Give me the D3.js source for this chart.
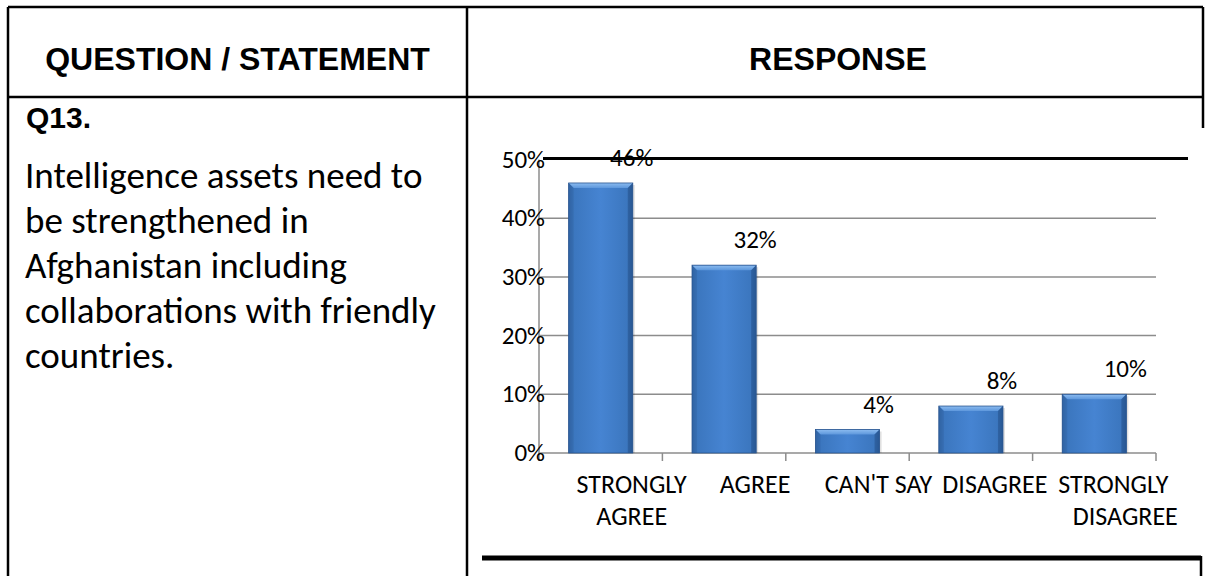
<!DOCTYPE html>
<html><head><meta charset="utf-8">
<script src="https://cdn.jsdelivr.net/npm/d3@7"></script>
<style>html,body{margin:0;padding:0;background:#fff;} svg{display:block}</style>
</head><body>
<svg id="c" width="1211" height="576"></svg>
<script>
// ---- data ----
const categories = ["STRONGLY AGREE", "AGREE", "CAN'T SAY", "DISAGREE", "STRONGLY DISAGREE"];
const categoryLines = [["STRONGLY", "AGREE"], ["AGREE"], ["CAN'T SAY"], ["DISAGREE"], ["STRONGLY", "DISAGREE"]];
const values = [46, 32, 4, 8, 10];
const yTicks = [0, 10, 20, 30, 40, 50];
const headerLabels = ["QUESTION / STATEMENT", "RESPONSE"];
const questionId = "Q13.";
const statementLines = ["Intelligence assets need to", "be strengthened in", "Afghanistan including", "collaborations with friendly", "countries."];

// ---- layout ----
const svg = d3.select("#c");
const CAL = "Carlito, Calibri, Lato, 'Open Sans', sans-serif";
const ARIAL = "'Liberation Sans', Arial, sans-serif";

const T = {left: 8, right: 1203, top: 7, mid: 467, headBottom: 97, bottom: 576};

function calText(g, txt, x, y, size, anchor, fill) {
  return g.append("text")
    .attr("x", x).attr("y", y)
    .attr("text-anchor", anchor || "start")
    .style("font-family", CAL).style("font-size", size + "px")
    .attr("fill", fill || "#000")
    .text(txt);
}

// table
const tb = svg.append("g").attr("stroke", "#000").attr("stroke-width", 2.5).attr("fill", "none");
tb.append("line").attr("x1", T.left).attr("x2", T.right).attr("y1", T.top).attr("y2", T.top);
tb.append("line").attr("x1", T.left).attr("x2", T.left).attr("y1", T.top).attr("y2", T.bottom);
tb.append("line").attr("x1", T.mid).attr("x2", T.mid).attr("y1", T.top).attr("y2", T.bottom);
tb.append("line").attr("x1", T.left).attr("x2", T.right).attr("y1", T.headBottom).attr("y2", T.headBottom);
tb.append("line").attr("x1", T.right).attr("x2", T.right).attr("y1", T.top).attr("y2", 128);
tb.append("line").attr("x1", 1201).attr("x2", 1201).attr("y1", 556).attr("y2", T.bottom);

// headers
svg.append("text").attr("x", (T.left + T.mid) / 2).attr("y", 70).attr("text-anchor", "middle")
  .style("font-family", ARIAL).style("font-weight", "bold").style("font-size", "32px").text(headerLabels[0]);
svg.append("text").attr("x", (T.mid + T.right) / 2 + 3).attr("y", 70).attr("text-anchor", "middle")
  .style("font-family", ARIAL).style("font-weight", "bold").style("font-size", "32px").text(headerLabels[1]);
svg.append("text").attr("x", 26).attr("y", 128)
  .style("font-family", ARIAL).style("font-weight", "bold").style("font-size", "30px").text(questionId);

statementLines.forEach((l, i) => calText(svg, l, 25, 188 + i * 45, 37, "start"));

// chart
const x = d3.scaleBand().domain(categories).range([539, 1156]).paddingInner(0.48).paddingOuter(0.24);
const y = d3.scaleLinear().domain([0, 50]).range([453, 159.5]);

const defs = svg.append("defs");
const gBody = defs.append("linearGradient").attr("id", "gb").attr("x1", 0).attr("x2", 1).attr("y1", 0).attr("y2", 0);
[[0, "#2c5d9b"], [0.07, "#3b76be"], [0.5, "#4684d2"], [0.93, "#3b76be"], [1, "#2c5d9b"]]
  .forEach(s => gBody.append("stop").attr("offset", s[0]).attr("stop-color", s[1]));
const gTop = defs.append("linearGradient").attr("id", "gt").attr("x1", 0).attr("x2", 0).attr("y1", 0).attr("y2", 1);
[[0, "#8cbcf0"], [1, "#5d97dc"]].forEach(s => gTop.append("stop").attr("offset", s[0]).attr("stop-color", s[1]));

const plot = svg.append("g");
// gridlines
plot.selectAll(".grid").data(yTicks.filter(t => t > 0 && t < 50)).enter().append("line")
  .attr("x1", 539).attr("x2", 1156).attr("y1", d => y(d)).attr("y2", d => y(d))
  .attr("stroke", "#8c8c8c").attr("stroke-width", 1.5);
// axes
plot.append("line").attr("x1", 539).attr("x2", 539).attr("y1", y(50)).attr("y2", y(0))
  .attr("stroke", "#8c8c8c").attr("stroke-width", 1.5);
plot.append("line").attr("x1", 539).attr("x2", 1156).attr("y1", y(0)).attr("y2", y(0))
  .attr("stroke", "#8c8c8c").attr("stroke-width", 1.5);
d3.range(categories.length + 1).forEach(i => {
  const bx = x.range()[0] + i * x.step();
  plot.append("line").attr("x1", bx).attr("x2", bx).attr("y1", y(0)).attr("y2", y(0) + 8)
    .attr("stroke", "#8c8c8c").attr("stroke-width", 1.5);
});
// top black line
svg.append("line").attr("x1", 543).attr("x2", 1188).attr("y1", y(50) - 1).attr("y2", y(50) - 1)
  .attr("stroke", "#000").attr("stroke-width", 2.8);

// y tick labels
yTicks.forEach(t => calText(plot, t + "%", 545, y(t) + 8, 25, "end", "#000"));

// bars
const b = 5;
categories.forEach((c, i) => {
  const x0 = x(c), x1 = x(c) + x.bandwidth(), y0 = y(values[i]), yb = y(0);
  const g = plot.append("g");
  g.append("rect").attr("x", x0 + 2).attr("y", y0 + 2).attr("width", x.bandwidth()).attr("height", yb - y0 - 2)
    .attr("fill", "#000").attr("opacity", 0.12);
  g.append("rect").attr("x", x0).attr("y", y0).attr("width", x.bandwidth()).attr("height", yb - y0)
    .attr("fill", "url(#gb)");
  g.append("polygon").attr("points", [[x0, y0], [x1, y0], [x1 - b, y0 + b], [x0 + b, y0 + b]].map(p => p.join(",")).join(" "))
    .attr("fill", "url(#gt)");
  g.append("polygon").attr("points", [[x0, y0], [x0 + b, y0 + b], [x0 + b, yb], [x0, yb]].map(p => p.join(",")).join(" "))
    .attr("fill", "#3467a8").attr("opacity", 0.6);
  g.append("polygon").attr("points", [[x1, y0], [x1 - b, y0 + b], [x1 - b, yb], [x1, yb]].map(p => p.join(",")).join(" "))
    .attr("fill", "#27548d").attr("opacity", 0.6);
  g.append("rect").attr("x", x0).attr("y", y0).attr("width", x.bandwidth()).attr("height", yb - y0)
    .attr("fill", "none").attr("stroke", "#2a5590").attr("stroke-width", 0.8);
  // value label
  calText(plot, values[i] + "%", x0 + x.bandwidth() / 2 + 31, y0 - 17, 25, "middle");
  // category label (the two crowded right-hand labels sit a little left, as in the source)
  categoryLines[i].forEach((l, j) => {
    let shift = 31;
    if (i === 3) shift = 24;
    if (i === categories.length - 1 && j === 0) shift = 19;
    calText(plot, l, x0 + x.bandwidth() / 2 + shift, 493 + j * 32, 26, "middle");
  });
});

// bottom thick line of the response cell
svg.append("line").attr("x1", 482).attr("x2", 1201).attr("y1", 558).attr("y2", 558)
  .attr("stroke", "#000").attr("stroke-width", 5);
</script>
</body></html>
